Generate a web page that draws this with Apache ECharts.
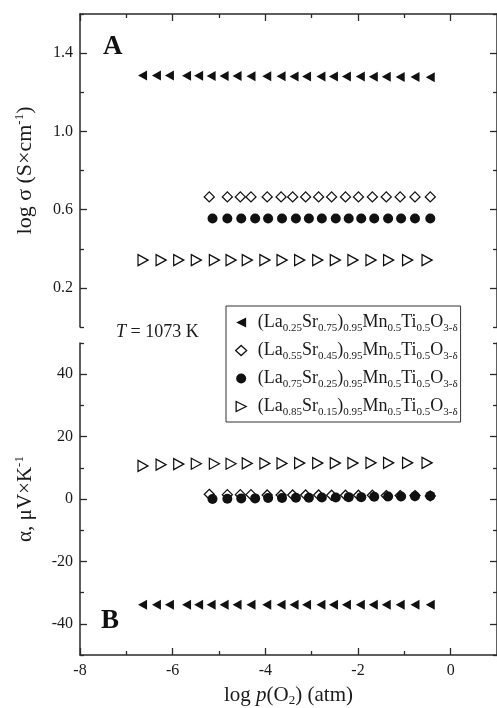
<!DOCTYPE html>
<html>
<head>
<meta charset="utf-8">
<script src="https://cdn.jsdelivr.net/npm/echarts@6/dist/echarts.min.js"></script>
<style>
  html, body { margin: 0; padding: 0; background: #fff; }
  #chart { width: 497px; height: 708px; }
</style>
</head>
<body>
<div id="chart"></div>
<script>
// Compositions (La_x Sr_1-x)0.95 Mn0.5 Ti0.5 O3-δ
const laFrac = ['0.25', '0.55', '0.75', '0.85'];
const srFrac = ['0.75', '0.45', '0.25', '0.15'];
const seriesNames = laFrac.map((la, i) => '(La' + la + 'Sr' + srFrac[i] + ')0.95Mn0.5Ti0.5O3-δ');

// log p(O2) values for each composition
const xLa025 = [-6.65, -6.35, -6.07, -5.70, -5.44, -5.17, -4.89, -4.61, -4.31, -3.97, -3.66,
                -3.38, -3.11, -2.80, -2.53, -2.25, -1.95, -1.67, -1.39, -1.09, -0.77, -0.44];
const xLa055 = [-5.21, -4.82, -4.54, -4.31, -3.96, -3.66, -3.41, -3.13, -2.85, -2.57, -2.27,
                -1.99, -1.69, -1.39, -1.09, -0.77, -0.44];
const xLa075 = [-5.14, -4.82, -4.52, -4.22, -3.94, -3.64, -3.34, -3.06, -2.78, -2.48, -2.20,
                -1.93, -1.65, -1.35, -1.07, -0.77, -0.44];
const xLa085 = [-6.64, -6.25, -5.87, -5.49, -5.10, -4.74, -4.39, -4.01, -3.64, -3.26, -2.87,
                -2.49, -2.11, -1.72, -1.34, -0.93, -0.51];

// Panel A: log conductivity (S/cm)
const logSigmaLa025 = [1.285, 1.285, 1.285, 1.284, 1.284, 1.283, 1.283, 1.283, 1.282, 1.282, 1.282,
                       1.281, 1.281, 1.281, 1.280, 1.280, 1.280, 1.279, 1.279, 1.278, 1.278, 1.277];
const logSigmaLa055 = [0.665, 0.665, 0.665, 0.665, 0.665, 0.665, 0.665, 0.665, 0.665, 0.665, 0.665,
                       0.665, 0.665, 0.665, 0.665, 0.665, 0.665];
const logSigmaLa075 = [0.555, 0.555, 0.555, 0.555, 0.555, 0.555, 0.555, 0.555, 0.555, 0.555, 0.555,
                       0.555, 0.555, 0.555, 0.555, 0.555, 0.555];
const logSigmaLa085 = [0.342, 0.342, 0.342, 0.342, 0.342, 0.342, 0.342, 0.342, 0.342, 0.342, 0.342,
                       0.342, 0.342, 0.342, 0.342, 0.342, 0.342];

// Panel B: Seebeck coefficient (µV/K)
const alphaLa025 = [-33.9, -33.9, -33.9, -33.9, -33.9, -33.9, -33.9, -33.9, -33.9, -33.9, -33.9,
                    -33.9, -33.9, -33.9, -33.9, -33.9, -33.9, -33.9, -33.9, -33.9, -33.9, -33.9];
const alphaLa055 = [1.5, 1.4, 1.4, 1.4, 1.3, 1.3, 1.3, 1.3, 1.3, 1.2, 1.2, 1.2, 1.2, 1.1, 1.1, 1.1, 1.0];
const alphaLa075 = [0.0, 0.1, 0.2, 0.2, 0.3, 0.3, 0.4, 0.4, 0.5, 0.5, 0.6, 0.6, 0.7, 0.8, 0.8, 0.9, 1.0];
const alphaLa085 = [10.6, 11.0, 11.2, 11.3, 11.3, 11.3, 11.4, 11.4, 11.4, 11.5, 11.5, 11.5, 11.5,
                    11.6, 11.6, 11.6, 11.6];

// Tick positions
const xMajor = [-8, -6, -4, -2, 0];
const xMinor = [-7, -5, -3, -1];
const sigmaMajor = [0.2, 0.6, 1.0, 1.4];
const sigmaMinor = [0.0, 0.4, 0.8, 1.2, 1.6];
const alphaMajor = [-40, -20, 0, 20, 40];
const alphaMinor = [-50, -30, -10, 10, 30, 50];

const FONT = 'Liberation Serif';
const INK = '#1a1a1a';
const AXIS = '#2a2a2a';
const MARK = '#111';

const zip = (xs, ys) => xs.map((x, i) => [x, ys[i]]);

const gridA = { left: 80, top: 14, width: 419, height: 313 };
const gridB = { left: 80, top: 343, width: 419, height: 312 };

function tickAxis(base, values, len, showLine, labels) {
  return Object.assign({
    type: 'value',
    axisLine: { show: showLine, onZero: false, lineStyle: { color: AXIS, width: 1.5 } },
    axisTick: { show: true, inside: true, length: len, customValues: values,
                lineStyle: { color: AXIS, width: 1.3 } },
    axisLabel: labels ? Object.assign({ customValues: values }, labels) : { show: false },
    splitLine: { show: false }
  }, base);
}

const labelStyle = { fontFamily: FONT, fontSize: 16, color: INK };
const titleStyle = { fontFamily: FONT, fontSize: 21, color: INK };

const xAxes = [
  // panel A, top edge
  tickAxis({ gridIndex: 0, min: -8, max: 1, position: 'top' }, xMajor, 7, true, null),
  tickAxis({ gridIndex: 0, min: -8, max: 1, position: 'top' }, xMinor, 4, false, null),
  // panel B, bottom edge with labels and title
  tickAxis({ gridIndex: 1, min: -8, max: 1, position: 'bottom',
             name: 'log {i|p}(O{s|2}) (atm)', nameLocation: 'middle', nameGap: 28,
             nameTextStyle: Object.assign({
               rich: { i: { fontFamily: FONT, fontSize: 21, fontStyle: 'italic', color: INK },
                       s: { fontFamily: FONT, fontSize: 13, color: INK, padding: [11, 0, 0, 0] } } },
               titleStyle) },
           xMajor, 7, true, Object.assign({ margin: 8 }, labelStyle)),
  tickAxis({ gridIndex: 1, min: -8, max: 1, position: 'bottom' }, xMinor, 4, false, null)
];

const supRich = { sup: { fontFamily: FONT, fontSize: 13, color: INK, padding: [0, 0, 11, 0] } };

const yAxes = [
  // panel A left
  tickAxis({ gridIndex: 0, min: 0, max: 1.6, position: 'left',
             name: 'log σ (S×cm{sup|-1})', nameLocation: 'middle', nameGap: 43, nameRotate: 90,
             nameTextStyle: Object.assign({ rich: supRich }, titleStyle, { fontSize: 22 }) },
           sigmaMajor, 7, true,
           Object.assign({ margin: 7, formatter: v => v.toFixed(1) }, labelStyle)),
  tickAxis({ gridIndex: 0, min: 0, max: 1.6, position: 'left' }, sigmaMinor, 4, false, null),
  // panel A right
  tickAxis({ gridIndex: 0, min: 0, max: 1.6, position: 'right' }, sigmaMajor, 7, true, null),
  tickAxis({ gridIndex: 0, min: 0, max: 1.6, position: 'right' }, sigmaMinor, 4, false, null),
  // panel B left
  tickAxis({ gridIndex: 1, min: -50, max: 50, position: 'left',
             name: 'α, μV×K{sup|-1}', nameLocation: 'middle', nameGap: 43, nameRotate: 90,
             nameTextStyle: Object.assign({ rich: supRich }, titleStyle) },
           alphaMajor, 7, true, Object.assign({ margin: 7 }, labelStyle)),
  tickAxis({ gridIndex: 1, min: -50, max: 50, position: 'left' }, alphaMinor, 4, false, null),
  // panel B right
  tickAxis({ gridIndex: 1, min: -50, max: 50, position: 'right' }, alphaMajor, 7, true, null),
  tickAxis({ gridIndex: 1, min: -50, max: 50, position: 'right' }, alphaMinor, 4, false, null)
];

const filled = { color: MARK, borderWidth: 0, opacity: 1 };
const hollow = { color: '#fff', borderColor: MARK, borderWidth: 1.3, opacity: 1 };

const markers = [
  { symbol: 'triangle', symbolSize: [10, 9], symbolRotate: 90, itemStyle: filled },
  { symbol: 'diamond', symbolSize: [10, 10], symbolRotate: 0, itemStyle: hollow },
  { symbol: 'circle', symbolSize: 10, symbolRotate: 0, itemStyle: filled },
  { symbol: 'triangle', symbolSize: [11, 10], symbolRotate: -90, itemStyle: hollow }
];

// Legend icons: triangles drawn pointing sideways
const legendIcons = [
  'path://M0,5L10,0L10,10Z',
  'diamond',
  'circle',
  'path://M0,0L10,5L0,10Z'
];

const panelA = [zip(xLa025, logSigmaLa025), zip(xLa055, logSigmaLa055),
                zip(xLa075, logSigmaLa075), zip(xLa085, logSigmaLa085)];
const panelB = [zip(xLa025, alphaLa025), zip(xLa055, alphaLa055),
                zip(xLa075, alphaLa075), zip(xLa085, alphaLa085)];

const series = [];
// draw in reverse order so earlier compositions sit on top
[3, 2, 1, 0].forEach(i => {
  series.push(Object.assign({ type: 'scatter', name: seriesNames[i], xAxisIndex: 0, yAxisIndex: 0,
    data: panelA[i], silent: true, animation: false }, markers[i]));
});
[1, 2, 3, 0].forEach(i => {
  series.push(Object.assign({ type: 'scatter', name: seriesNames[i], xAxisIndex: 2, yAxisIndex: 4,
    data: panelB[i], silent: true, animation: false }, markers[i]));
});

const subStyle = { fontFamily: FONT, fontSize: 11, color: INK, lineHeight: 21, padding: [12, 0, 0, 0] };

const chart = echarts.init(document.getElementById('chart'), null, { renderer: 'canvas' });
chart.setOption({
  backgroundColor: '#fff',
  animation: false,
  grid: [gridA, gridB],
  xAxis: xAxes,
  yAxis: yAxes,
  legend: {
    data: seriesNames.map((n, i) => ({
      name: n, icon: legendIcons[i],
      itemStyle: (i === 1 || i === 3) ? hollow : filled
    })),
    orient: 'vertical',
    left: 226, top: 306,
    padding: [5, 3, 4, 9],
    itemGap: 5,
    itemWidth: 11, itemHeight: 10,
    symbolRotate: 0,
    backgroundColor: '#fff',
    borderColor: '#333', borderWidth: 1, borderRadius: 0,
    selectedMode: false,
    formatter: name => {
      const i = seriesNames.indexOf(name);
      return '(La{s|' + laFrac[i] + '}Sr{s|' + srFrac[i] + '}){s|0.95}Mn{s|0.5}Ti{s|0.5}O{s|3-δ}';
    },
    textStyle: { fontFamily: FONT, fontSize: 18, color: INK, lineHeight: 21,
                 padding: [0, 0, 0, 6], rich: { s: subStyle } }
  },
  graphic: [
    { type: 'text', left: 103, top: 34,
      style: { text: 'A', font: 'bold 27px "Liberation Serif"', fill: '#111' } },
    { type: 'text', left: 101, top: 608,
      style: { text: 'B', font: 'bold 27px "Liberation Serif"', fill: '#111' } },
    { type: 'text', left: 116, top: 323,
      style: { text: '{i|T} = 1073 K', font: '18px "Liberation Serif"', fill: INK,
               rich: { i: { fontFamily: FONT, fontSize: 18, fontStyle: 'italic', fill: INK } } } }
  ],
  series: series
});
</script>
</body>
</html>
